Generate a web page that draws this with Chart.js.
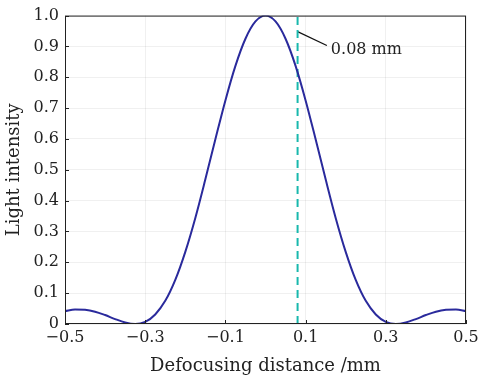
<!DOCTYPE html>
<html>
<head>
<meta charset="utf-8">
<script src="https://cdn.jsdelivr.net/npm/chart.js@4.4.0/dist/chart.umd.min.js"></script>
<style>
  html, body { margin: 0; padding: 0; background: #fff; }
  #wrap { width: 481px; height: 381px; }
</style>
</head>
<body>
<div id="wrap"><canvas id="grafica"></canvas></div>
<script>
// valores
const distancia = [-0.5, -0.475, -0.45, -0.425, -0.4, -0.375, -0.35, -0.325, -0.3, -0.275, -0.25, -0.225, -0.2, -0.175, -0.15, -0.125, -0.1, -0.075, -0.05, -0.025,
  0, 0.025, 0.05, 0.075, 0.1, 0.125, 0.15, 0.175, 0.2, 0.225, 0.25, 0.275, 0.3, 0.325, 0.35, 0.375, 0.4, 0.425, 0.45, 0.475, 0.5];
const intensidad = [0.042, 0.047, 0.046, 0.040, 0.029, 0.016, 0.005, 0.0, 0.007, 0.031, 0.075, 0.143, 0.234, 0.344, 0.469, 0.599, 0.725, 0.837, 0.925, 0.981,
  1.0, 0.981, 0.925, 0.837, 0.725, 0.599, 0.469, 0.344, 0.234, 0.143, 0.075, 0.031, 0.007, 0.0, 0.005, 0.016, 0.029, 0.040, 0.046, 0.047, 0.042];
const ticksX = [-0.5, -0.3, -0.1, 0.1, 0.3, 0.5];
const ticksY = [0, 0.1, 0.2, 0.3, 0.4, 0.5, 0.6, 0.7, 0.8, 0.9, 1.0];
const desenfoque = 0.08;          // linea discontinua
const flecha = [[0.08, 0.948], [0.153, 0.903]]; // linea de la etiqueta
const etiqueta = { x: 0.163, y: 0.89, texto: '0.08 mm' };

const fuente = 'DejaVu Serif';
const puntos = distancia.map((x, i) => ({ x: x, y: intensidad[i] }));

function formato(v) {
  if (v === 0) return '0';
  const s = Math.abs(v).toFixed(1);
  return (v < 0 ? '\u2212' : '') + s;
}

// marco, marcas interiores y texto de la etiqueta
const marco = {
  id: 'marco',
  afterDraw(chart) {
    const ctx = chart.ctx;
    const a = chart.chartArea;
    const sx = chart.scales.x, sy = chart.scales.y;
    ctx.save();
    ctx.strokeStyle = '#222';
    ctx.lineWidth = 1;
    ctx.strokeRect(a.left + 0.5, a.top + 0.5, a.right - a.left - 1, a.bottom - a.top - 1);
    ctx.beginPath();
    ticksX.forEach(v => {
      const p = Math.round(sx.getPixelForValue(v)) + 0.5;
      ctx.moveTo(p, a.bottom); ctx.lineTo(p, a.bottom - 4);
    });
    ticksY.forEach(v => {
      const p = Math.round(sy.getPixelForValue(v)) + 0.5;
      ctx.moveTo(a.left, p); ctx.lineTo(a.left + 4, p);
    });
    ctx.stroke();
    ctx.fillStyle = '#222';
    ctx.font = '16px "' + fuente + '"';
    ctx.textAlign = 'left';
    ctx.textBaseline = 'middle';
    ctx.fillText(etiqueta.texto, sx.getPixelForValue(etiqueta.x), sy.getPixelForValue(etiqueta.y));
    ctx.restore();
  }
};

const ctx = document.getElementById('grafica').getContext('2d');
const grafica = new Chart(ctx, {
  type: 'line',
  data: {
    datasets: [{
      data: puntos,
      borderColor: '#2a2a9c',
      borderWidth: 2,
      pointRadius: 0,
      cubicInterpolationMode: 'monotone',
      fill: false
    }, {
      data: [{ x: desenfoque, y: 0 }, { x: desenfoque, y: 1 }],
      borderColor: '#18b8ad',
      borderWidth: 2,
      borderDash: [8, 5],
      pointRadius: 0
    }, {
      data: flecha.map(p => ({ x: p[0], y: p[1] })),
      borderColor: '#111',
      borderWidth: 1.2,
      pointRadius: 0
    }]
  },
  plugins: [marco],
  options: {
    responsive: true,
    maintainAspectRatio: false,
    animation: false,
    layout: { padding: { top: 15, right: 0, left: 0, bottom: 0 } },
    scales: {
      x: {
        type: 'linear',
        min: -0.5,
        max: 0.5,
        afterBuildTicks: s => { s.ticks = ticksX.map(v => ({ value: v })); },
        afterFit: s => { s.height = 57; s.paddingRight = 15; },
        ticks: {
          autoSkip: false,
          maxRotation: 0,
          padding: 4,
          color: '#222',
          font: { family: fuente, size: 16 },
          callback: v => formato(v)
        },
        grid: { display: true, drawTicks: false, color: 'rgba(0,0,0,0.06)', drawOnChartArea: true },
        border: { display: false },
        title: { display: true, text: 'Defocusing distance /mm', color: '#222', font: { family: fuente, size: 18 }, padding: { top: 0 } }
      },
      y: {
        type: 'linear',
        min: 0,
        max: 1,
        afterBuildTicks: s => { s.ticks = ticksY.map(v => ({ value: v })); },
        afterFit: s => { s.width = 65; },
        ticks: {
          autoSkip: false,
          padding: 6,
          color: '#222',
          font: { family: fuente, size: 16 },
          callback: v => (v === 0 ? '0' : v.toFixed(1))
        },
        grid: { display: true, drawTicks: false, color: 'rgba(0,0,0,0.06)' },
        border: { display: false },
        title: { display: true, text: 'Light intensity', color: '#222', font: { family: fuente, size: 18 }, padding: { bottom: 0 } }
      }
    },
    plugins: {
      legend: { display: false },
      tooltip: { enabled: false }
    }
  }
});
</script>
</body>
</html>
